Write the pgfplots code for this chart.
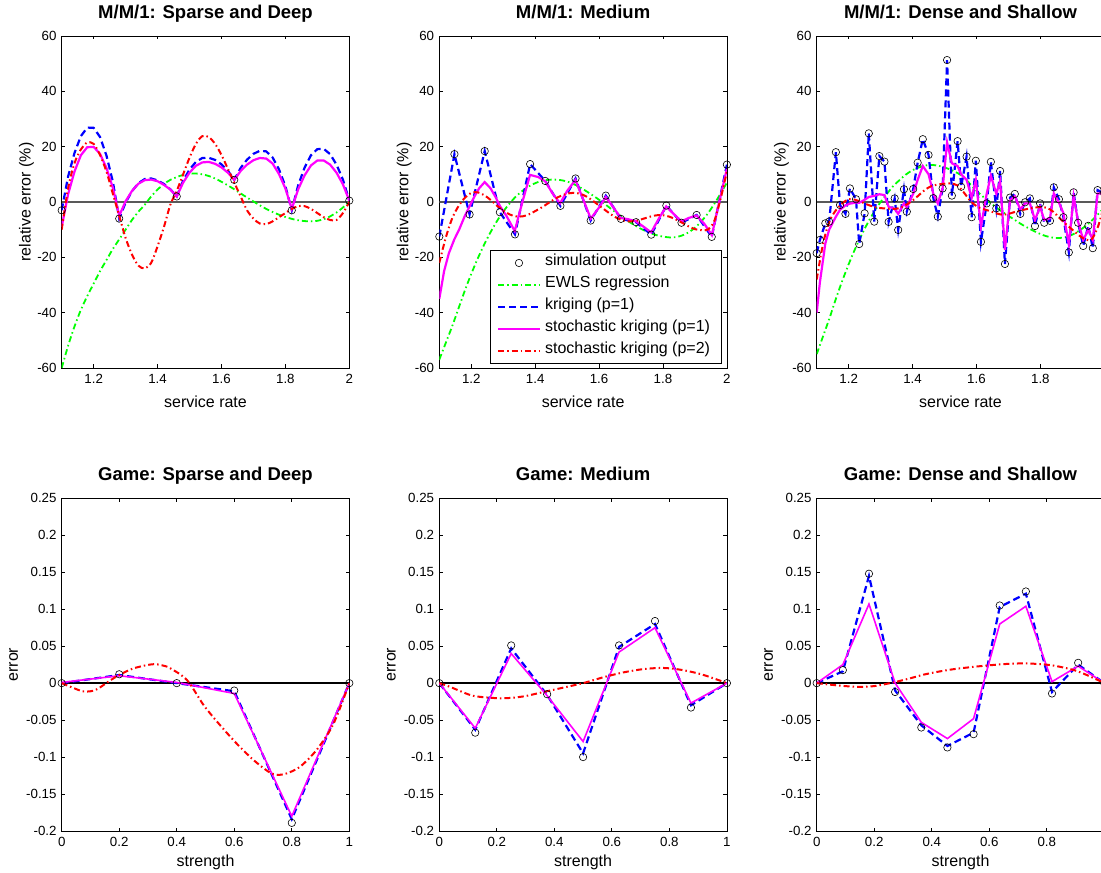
\documentclass[border=0pt]{standalone}
\usepackage{pgfplots}
\pgfplotsset{compat=1.18}
\usepackage{fontspec}
\setmainfont{Liberation Sans}
\definecolor{mgreen}{rgb}{0,1,0}
\definecolor{mblue}{rgb}{0,0,1}
\definecolor{mmag}{rgb}{1,0,1}
\definecolor{mred}{rgb}{1,0,0}
\definecolor{zgray}{rgb}{0.35,0.35,0.35}
\pgfplotsset{
  base/.style={
    anchor=south west, scale only axis,
    tick pos=both, tick align=inside, major tick length=3.5pt,
    axis line style={line width=0.8pt, black},
    every tick/.style={black, line width=0.8pt},
    ticklabel style={font=\fontsize{13.3}{15}\selectfont, text=black},
    xticklabel style={inner sep=0pt, yshift=-6pt},
    yticklabel style={inner sep=0pt, xshift=-5pt},
    label style={font=\fontsize{16}{18}\selectfont},
    title style={font=\bfseries\fontsize{18.5}{20}\selectfont, at={(axis description cs:0.5,1.036)}, anchor=base},
    clip=true,
  },
  mm/.style={base, width=287.6pt, height=332pt,
    xmin=1.1, xmax=2, ymin=-60, ymax=60,
    xtick={1.2,1.4,1.6,1.8,2}, xticklabels={1.2,1.4,1.6,1.8,2},
    ytick={-60,-40,-20,0,20,40,60}, yticklabels={-60,-40,-20,0,20,40,60},
    xlabel={service rate}, ylabel={relative error (\%)},
    xlabel style={at={(axis description cs:0.5,-0.1175)}, anchor=base},
    ylabel style={at={(axis description cs:-0.1078,0.5)}, anchor=base},
  },
  game/.style={base, width=287.6pt, height=332.7pt,
    xmin=0, xmax=1, ymin=-0.2, ymax=0.25,
    xtick={0,0.2,0.4,0.6,0.8,1}, xticklabels={0,0.2,0.4,0.6,0.8,1},
    ytick={-0.2,-0.15,-0.1,-0.05,0,0.05,0.1,0.15,0.2,0.25},
    yticklabels={-0.2,-0.15,-0.1,-0.05,0,0.05,0.1,0.15,0.2,0.25},
    xlabel={strength}, ylabel={error},
    xlabel style={at={(axis description cs:0.5,-0.108)}, anchor=base},
    ylabel style={at={(axis description cs:-0.152,0.5)}, anchor=base},
  },
}
\tikzset{
  sim/.style={only marks, mark=o, mark size=3.7pt, black, mark options={solid, line width=0.6pt}},
  greenline/.style={draw=mgreen, line width=1.8pt, dash pattern=on 6pt off 3pt on 1.5pt off 3pt},
  krig/.style={draw=mblue, line width=2.2pt, dash pattern=on 7pt off 4pt},
  skone/.style={draw=mmag, line width=2.2pt},
  sktwo/.style={draw=mred, line width=2pt, dash pattern=on 6pt off 3pt on 1.5pt off 3pt},
  zline/.style={draw=zgray, line width=1.2pt},
  zlineb/.style={draw=black, line width=1.6pt},
  legtext/.style={anchor=mid west, inner sep=0pt, font=\fontsize{16}{18}\selectfont, text=black},
}
\begin{document}
\begin{tikzpicture}
\path[use as bounding box] (0pt,0pt) rectangle (1101pt,873pt);
% ---------------- M/M/1 Sparse and Deep
\begin{axis}[mm, at={(61.7pt,505pt)}, title={M/M/1: Sparse and Deep}]
\addplot[zline] coordinates {(1.1,0) (2,0)};
\addplot[sim] coordinates {(1.1,-3) (1.28,-6) (1.46,2) (1.64,8) (1.82,-3) (2.0,0.5)};
\addplot[greenline, smooth] coordinates {(1.10,-60) (1.12,-52) (1.14,-45) (1.16,-39) (1.18,-34) (1.20,-29.5) (1.22,-25) (1.24,-21) (1.26,-17) (1.28,-13.5) (1.30,-10) (1.32,-6.5) (1.34,-3.5) (1.36,-1) (1.38,2) (1.40,4.5) (1.42,6.5) (1.44,8) (1.46,9) (1.48,9.8) (1.50,10.2) (1.52,10.3) (1.54,10) (1.56,9.4) (1.58,8.5) (1.60,7.3) (1.62,6) (1.64,4.6) (1.66,3.1) (1.68,1.6) (1.70,0.2) (1.72,-1.2) (1.74,-2.5) (1.76,-3.6) (1.78,-4.6) (1.80,-5.4) (1.82,-6.1) (1.84,-6.6) (1.86,-6.9) (1.88,-7) (1.90,-6.8) (1.92,-6.2) (1.94,-5.2) (1.96,-3.8) (1.98,-2) (2.00,0)};
\addplot[krig] coordinates {(1.10,-3) (1.12,9.2) (1.14,17.7) (1.16,23.8) (1.18,26.9) (1.20,26.8) (1.22,23.5) (1.24,16.8) (1.26,7.4) (1.28,-6) (1.30,-0.2) (1.32,3.9) (1.34,6.8) (1.36,8.3) (1.38,8.5) (1.40,7.8) (1.42,6.5) (1.44,4.6) (1.46,2) (1.48,7.7) (1.50,11.7) (1.52,14.5) (1.54,15.9) (1.56,16.0) (1.58,15.2) (1.60,13.6) (1.62,11.3) (1.64,8) (1.66,12.3) (1.68,15.3) (1.70,17.4) (1.72,18.5) (1.74,18.3) (1.76,16.1) (1.78,11.8) (1.80,5.7) (1.82,-3) (1.84,6.0) (1.86,12.4) (1.88,16.9) (1.90,19.1) (1.92,19.2) (1.94,17.3) (1.96,13.5) (1.98,8.1) (2.00,0.5)};
\addplot[skone] coordinates {(1.10,-9) (1.12,2.8) (1.14,11) (1.16,16.9) (1.18,19.8) (1.20,19.9) (1.22,17.4) (1.24,12.3) (1.26,5.2) (1.28,-5) (1.30,0.3) (1.32,4.0) (1.34,6.6) (1.36,7.9) (1.38,8.1) (1.40,7.5) (1.42,6.2) (1.44,4.5) (1.46,2) (1.48,7.0) (1.50,10.6) (1.52,13.1) (1.54,14.3) (1.56,14.5) (1.58,13.8) (1.60,12.5) (1.62,10.6) (1.64,8) (1.66,11.2) (1.68,13.5) (1.70,15.1) (1.72,15.9) (1.74,15.7) (1.76,13.9) (1.78,10.1) (1.80,4.9) (1.82,-2.5) (1.84,4.6) (1.86,9.6) (1.88,13.2) (1.90,15.0) (1.92,15.0) (1.94,13.5) (1.96,10.6) (1.98,6.4) (2.00,0.5)};
\addplot[sktwo, smooth] coordinates {(1.10,-10) (1.12,5) (1.14,14) (1.16,19) (1.18,21.5) (1.20,21) (1.22,17) (1.24,11) (1.26,3) (1.28,-5) (1.30,-13) (1.32,-19) (1.34,-23) (1.36,-24) (1.38,-22) (1.40,-16) (1.42,-9) (1.44,-1) (1.46,4) (1.48,10) (1.50,16) (1.52,21) (1.54,23.8) (1.56,23.5) (1.58,21) (1.60,17) (1.62,12) (1.64,7) (1.66,2) (1.68,-3) (1.70,-6) (1.72,-7.8) (1.74,-8) (1.76,-7) (1.78,-5.5) (1.80,-4) (1.82,-2.5) (1.84,-1.5) (1.86,-1.5) (1.88,-2.5) (1.90,-4) (1.92,-5.5) (1.94,-6.5) (1.96,-6.5) (1.98,-4) (2.00,0)};
\end{axis}
% ---------------- M/M/1 Medium
\begin{axis}[mm, at={(439.3pt,505pt)}, title={M/M/1: Medium}]
\addplot[zline] coordinates {(1.1,0) (2,0)};
\addplot[sim] coordinates {(1.1,-12.5) (1.1474,17.3) (1.1947,-4.5) (1.2421,18.4) (1.2895,-3.7) (1.3368,-11.7) (1.3842,13.7) (1.4316,7.6) (1.4789,-1.4) (1.5263,8.5) (1.5737,-6.7) (1.6211,2.3) (1.6684,-6.1) (1.7158,-7.3) (1.7632,-11.8) (1.8105,-1.3) (1.8579,-7.5) (1.9053,-4.7) (1.9526,-12.6) (2.0,13.5)};
\addplot[greenline, smooth] coordinates {(1.10,-57) (1.12,-51) (1.14,-45) (1.16,-38.5) (1.18,-32) (1.20,-26) (1.22,-20.5) (1.24,-15.5) (1.26,-11) (1.28,-7) (1.30,-3.5) (1.32,-0.5) (1.34,2) (1.36,4) (1.38,5.6) (1.40,6.8) (1.42,7.6) (1.44,8) (1.46,8.1) (1.48,7.9) (1.50,7.4) (1.52,6.5) (1.54,5.3) (1.56,3.9) (1.58,2.4) (1.60,0.8) (1.62,-0.9) (1.64,-2.7) (1.66,-4.4) (1.68,-6.1) (1.70,-7.6) (1.72,-9) (1.74,-10.2) (1.76,-11.2) (1.78,-12) (1.80,-12.5) (1.82,-12.8) (1.84,-12.7) (1.86,-12.1) (1.88,-11) (1.90,-9.3) (1.92,-7) (1.94,-4.2) (1.96,-0.8) (1.98,3) (2.00,7)};
\addplot[krig] coordinates {(1.1,-12.5) (1.1474,17.3) (1.1947,-4.5) (1.2421,18.4) (1.2895,-3.7) (1.3368,-11.7) (1.3842,13.7) (1.4316,7.6) (1.4789,-1.4) (1.5263,8.5) (1.5737,-6.7) (1.6211,2.3) (1.6684,-6.1) (1.7158,-7.3) (1.7632,-11.8) (1.8105,-1.3) (1.8579,-7.5) (1.9053,-4.7) (1.9526,-12.6) (2.0,13.5)};
\addplot[skone] coordinates {(1.1,-35) (1.115,-25) (1.13,-18.5) (1.147,-13.5) (1.162,-10) (1.18,-5) (1.195,-1.5) (1.21,2) (1.225,5) (1.242,7.2) (1.26,5) (1.275,2) (1.29,-1.5) (1.31,-5) (1.336,-10.5) (1.36,0) (1.384,9.8) (1.41,9) (1.432,7.4) (1.455,3) (1.478,-0.5) (1.50,4) (1.526,8) (1.55,1) (1.574,-6) (1.6,-2) (1.621,1.8) (1.645,-2) (1.668,-5.8) (1.69,-6.2) (1.716,-7) (1.74,-9) (1.763,-11) (1.787,-6) (1.81,-1.6) (1.835,-4.5) (1.858,-7) (1.88,-5.8) (1.905,-4.9) (1.93,-8) (1.953,-12) (1.976,0) (2.0,12)};
\addplot[sktwo, smooth] coordinates {(1.10,-22) (1.12,-13) (1.14,-6) (1.16,-1.5) (1.18,1.5) (1.20,3.3) (1.22,3.5) (1.24,2.5) (1.26,0.8) (1.28,-1.3) (1.30,-3) (1.32,-4.5) (1.34,-5.2) (1.36,-5.2) (1.38,-4.5) (1.40,-3.3) (1.42,-2) (1.44,-0.5) (1.46,1) (1.48,2.2) (1.50,3) (1.52,3.3) (1.54,3) (1.56,2) (1.58,0.5) (1.60,-1.3) (1.62,-3) (1.64,-4.7) (1.66,-6) (1.68,-6.8) (1.70,-7) (1.72,-6.7) (1.74,-6) (1.76,-5.3) (1.78,-4.8) (1.80,-4.8) (1.82,-5.3) (1.84,-6.3) (1.86,-7.5) (1.88,-8.8) (1.90,-9.8) (1.92,-10.2) (1.94,-10) (1.96,-7) (1.98,1) (2.00,11)};
% legend box
\draw[black, line width=0.8pt, fill=white] (axis description cs:0.1763,0.0151) rectangle (axis description cs:0.9795,0.3554);
\draw[black, line width=0.6pt] (axis description cs:0.2771,0.3163) circle[radius=3.7pt];
\draw[greenline] (axis description cs:0.2041,0.2500) -- (axis description cs:0.3502,0.2500);
\draw[krig] (axis description cs:0.2041,0.1837) -- (axis description cs:0.3502,0.1837);
\draw[skone] (axis description cs:0.2041,0.1175) -- (axis description cs:0.3502,0.1175);
\draw[sktwo] (axis description cs:0.2041,0.0512) -- (axis description cs:0.3502,0.0512);
\node[legtext] at (axis description cs:0.3672,0.3163) {simulation output};
\node[legtext] at (axis description cs:0.3672,0.2500) {EWLS regression};
\node[legtext] at (axis description cs:0.3672,0.1837) {kriging (p=1)};
\node[legtext] at (axis description cs:0.3672,0.1175) {stochastic kriging (p=1)};
\node[legtext] at (axis description cs:0.3672,0.0512) {stochastic kriging (p=2)};
\end{axis}
% ---------------- M/M/1 Dense and Shallow
\begin{axis}[mm, at={(816.7pt,505pt)}, title={M/M/1: Dense and Shallow}]
\addplot[zline] coordinates {(1.1,0) (2,0)};
\addplot[sim] coordinates {(1.100,-18.5) (1.110,-13.7) (1.127,-7.7) (1.139,-7.1) (1.160,18.0) (1.173,-1.1) (1.190,-4.3) (1.204,4.9) (1.223,1.0) (1.233,-15.2) (1.250,-4.1) (1.263,24.8) (1.280,-7.1) (1.296,16.6) (1.312,14.6) (1.325,-7.2) (1.344,1.3) (1.355,-10.1) (1.373,4.6) (1.382,-3.5) (1.402,4.7) (1.416,14.2) (1.432,22.7) (1.450,17.0) (1.465,1.4) (1.479,-5.3) (1.494,4.9) (1.508,51.3) (1.523,2.3) (1.541,22.0) (1.552,5.5) (1.569,16.4) (1.585,-5.5) (1.598,14.9) (1.614,-14.4) (1.632,-0.5) (1.645,14.5) (1.662,-2.3) (1.674,11.2) (1.689,-22.4) (1.705,1.6) (1.720,2.9) (1.737,-4.3) (1.752,-0.1) (1.767,1.3) (1.783,-8.7) (1.799,-0.5) (1.812,-7.5) (1.830,-6.8) (1.842,5.3) (1.858,1.0) (1.872,-5.5) (1.889,-18.2) (1.904,3.5) (1.918,-7.5) (1.934,-15.9) (1.950,-8.6) (1.964,-16.7) (1.979,4.3) (2.000,3.0)};
\addplot[greenline, smooth] coordinates {(1.10,-55) (1.12,-48.5) (1.14,-42) (1.16,-35) (1.18,-28.5) (1.20,-22.5) (1.22,-17) (1.24,-12) (1.26,-7.5) (1.28,-3.5) (1.30,0) (1.32,3) (1.34,5.8) (1.36,8) (1.38,10) (1.40,11.5) (1.42,12.5) (1.44,13.2) (1.46,13.4) (1.48,13.1) (1.50,12.5) (1.52,11.6) (1.54,10.5) (1.56,9) (1.58,6.5) (1.60,4) (1.62,2) (1.64,0) (1.66,-1.8) (1.68,-3.5) (1.70,-5) (1.72,-6.5) (1.74,-8) (1.76,-9.3) (1.78,-10.5) (1.80,-11.6) (1.82,-12.4) (1.84,-12.9) (1.86,-13) (1.88,-12.7) (1.90,-11.8) (1.92,-10.5) (1.94,-8.8) (1.96,-6.8) (1.98,-4.5) (2.00,-2)};
\addplot[krig] coordinates {(1.100,-18.5) (1.110,-13.7) (1.127,-7.7) (1.139,-7.1) (1.160,18.0) (1.173,-1.1) (1.190,-4.3) (1.204,4.9) (1.223,1.0) (1.233,-15.2) (1.250,-4.1) (1.263,24.8) (1.280,-7.1) (1.296,16.6) (1.312,14.6) (1.325,-7.2) (1.344,1.3) (1.355,-10.1) (1.373,4.6) (1.382,-3.5) (1.402,4.7) (1.416,14.2) (1.432,22.7) (1.450,17.0) (1.465,1.4) (1.479,-5.3) (1.494,4.9) (1.508,51.3) (1.523,2.3) (1.541,22.0) (1.552,5.5) (1.569,16.4) (1.585,-5.5) (1.598,14.9) (1.614,-14.4) (1.632,-0.5) (1.645,14.5) (1.662,-2.3) (1.674,11.2) (1.689,-22.4) (1.705,1.6) (1.720,2.9) (1.737,-4.3) (1.752,-0.1) (1.767,1.3) (1.783,-8.7) (1.799,-0.5) (1.812,-7.5) (1.830,-6.8) (1.842,5.3) (1.858,1.0) (1.872,-5.5) (1.889,-18.2) (1.904,3.5) (1.918,-7.5) (1.934,-15.9) (1.950,-8.6) (1.964,-16.7) (1.979,4.3) (2.000,3.0)};
\addplot[skone] coordinates {(1.100,-40) (1.110,-29) (1.127,-15) (1.139,-10) (1.160,-5.3) (1.173,-2.8) (1.190,-1.2) (1.204,-0.6) (1.223,-0.2) (1.233,-0.3) (1.250,0.8) (1.263,1.8) (1.280,2.2) (1.296,2.8) (1.312,2.5) (1.325,-1.7) (1.344,-2.5) (1.355,-4.3) (1.373,-0.5) (1.382,-2.0) (1.402,3) (1.416,8) (1.432,13) (1.450,10) (1.465,3) (1.479,-0.5) (1.494,5) (1.508,21.5) (1.523,14) (1.541,13) (1.552,10) (1.569,8) (1.585,1.5) (1.598,8) (1.614,-9) (1.632,3) (1.645,9.5) (1.662,3) (1.674,7.5) (1.689,-17.3) (1.705,0.6) (1.720,2.1) (1.737,-2.7) (1.752,-0.5) (1.767,-0.5) (1.783,-6.5) (1.799,-1.7) (1.812,-6.5) (1.830,-5.9) (1.842,3.1) (1.858,-0.2) (1.872,-4) (1.889,-15.4) (1.904,2.1) (1.918,-7.1) (1.934,-13.7) (1.950,-10) (1.964,-13.7) (1.979,3.1) (2.000,3)};
\addplot[sktwo, smooth] coordinates {(1.10,-28) (1.12,-15) (1.14,-7) (1.16,-3) (1.18,-0.5) (1.20,1) (1.22,0.8) (1.24,0) (1.26,-1) (1.28,-1.8) (1.30,-2.2) (1.32,-2.4) (1.34,-2.5) (1.36,-2.2) (1.38,-1) (1.40,0.5) (1.42,2.5) (1.44,4.5) (1.46,5.8) (1.48,6.3) (1.50,6.6) (1.52,6.7) (1.54,6) (1.56,3.5) (1.58,0.5) (1.60,-1.5) (1.62,-2.5) (1.64,-3.2) (1.66,-4) (1.68,-4.6) (1.70,-4.3) (1.72,-3.6) (1.74,-3) (1.76,-2.5) (1.78,-2.1) (1.80,-1.8) (1.82,-2.1) (1.84,-3.5) (1.86,-5.8) (1.88,-8) (1.90,-10) (1.92,-12) (1.94,-13.5) (1.96,-13.5) (1.98,-9) (2.00,-1)};
\end{axis}
% ---------------- Game Sparse and Deep
\begin{axis}[game, at={(61.7pt,42pt)}, title={Game: Sparse and Deep}]
\addplot[zlineb] coordinates {(0,0) (1,0)};
\addplot[sim] coordinates {(0,0) (0.2,0.012) (0.4,0) (0.6,-0.01) (0.8,-0.189) (1,0)};
\addplot[krig] coordinates {(0,0) (0.2,0.011) (0.4,0) (0.6,-0.011) (0.8,-0.184) (1,0)};
\addplot[skone, line width=1.6pt] coordinates {(0,0.001) (0.2,0.01) (0.4,0.001) (0.6,-0.014) (0.8,-0.18) (1,0)};
\addplot[sktwo, smooth] coordinates {(0,0) (0.031,-0.005) (0.072,-0.011) (0.1,-0.011) (0.124,-0.008) (0.17,0.004) (0.2,0.011) (0.25,0.02) (0.314,0.0255) (0.35,0.024) (0.378,0.02) (0.436,0.004) (0.494,-0.03) (0.551,-0.057) (0.609,-0.082) (0.667,-0.104) (0.72,-0.12) (0.75,-0.124) (0.783,-0.122) (0.829,-0.113) (0.887,-0.09) (0.945,-0.055) (1,0)};
\end{axis}
% ---------------- Game Medium
\begin{axis}[game, at={(439.3pt,42pt)}, title={Game: Medium}]
\addplot[zlineb] coordinates {(0,0) (1,0)};
\addplot[sim] coordinates {(0,0) (0.125,-0.067) (0.25,0.051) (0.375,-0.015) (0.5,-0.1) (0.625,0.051) (0.75,0.084) (0.875,-0.033) (1,0)};
\addplot[krig] coordinates {(0,0) (0.125,-0.063) (0.25,0.047) (0.375,-0.016) (0.5,-0.095) (0.625,0.049) (0.75,0.08) (0.875,-0.03) (1,0)};
\addplot[skone, line width=1.6pt] coordinates {(0,0) (0.125,-0.061) (0.25,0.04) (0.375,-0.017) (0.5,-0.079) (0.625,0.042) (0.75,0.075) (0.875,-0.027) (1,0)};
\addplot[sktwo, smooth] coordinates {(0,0) (0.037,-0.005) (0.107,-0.016) (0.153,-0.019) (0.223,-0.0205) (0.292,-0.018) (0.362,-0.012) (0.432,-0.006) (0.5,0) (0.571,0.008) (0.64,0.0145) (0.71,0.019) (0.78,0.0205) (0.849,0.0175) (0.919,0.011) (1,0)};
\end{axis}
% ---------------- Game Dense and Shallow
\begin{axis}[game, at={(816.7pt,42pt)}, title={Game: Dense and Shallow}]
\addplot[zlineb] coordinates {(0,0) (1,0)};
\addplot[sim] coordinates {(0,0) (0.0909,0.0176) (0.1818,0.148) (0.2727,-0.012) (0.3636,-0.06) (0.4545,-0.087) (0.5455,-0.069) (0.6364,0.105) (0.7273,0.124) (0.8182,-0.014) (0.9091,0.0275) (1,0)};
\addplot[krig] coordinates {(0,0) (0.0909,0.016) (0.1818,0.145) (0.2727,-0.01) (0.3636,-0.057) (0.4545,-0.085) (0.5455,-0.067) (0.6364,0.103) (0.7273,0.121) (0.8182,-0.012) (0.9091,0.025) (1,0)};
\addplot[skone, line width=1.6pt] coordinates {(0,0) (0.0909,0.025) (0.1818,0.107) (0.2727,0) (0.3636,-0.053) (0.4545,-0.075) (0.5455,-0.048) (0.6364,0.08) (0.7273,0.104) (0.8182,0.002) (0.9091,0.023) (1,0)};
\addplot[sktwo, smooth] coordinates {(0,0) (0.07,-0.003) (0.14,-0.005) (0.2,-0.004) (0.267,0.001) (0.32,0.006) (0.372,0.0115) (0.43,0.016) (0.488,0.0195) (0.58,0.0234) (0.663,0.026) (0.733,0.0266) (0.814,0.0243) (0.895,0.0176) (0.953,0.0086) (1,0)};
\end{axis}
\end{tikzpicture}
\end{document}
